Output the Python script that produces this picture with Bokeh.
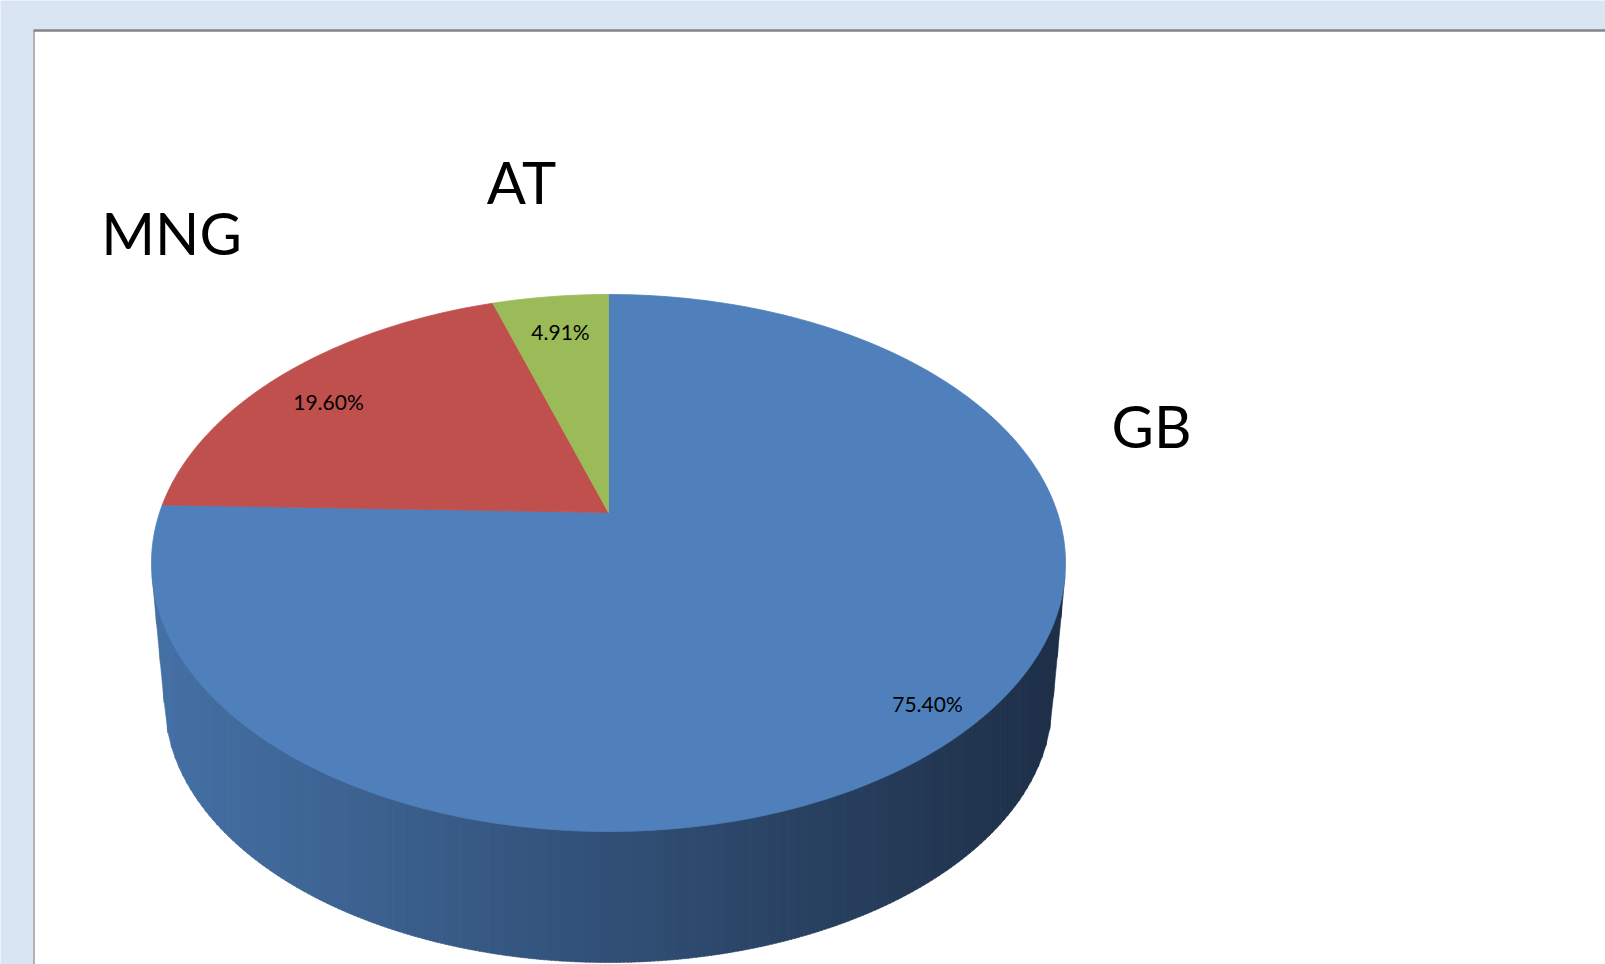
import math
import numpy as np
from bokeh.plotting import figure
from bokeh.models import Range1d
from bokeh.core.properties import value
from bokeh.embed import file_html
from bokeh.resources import INLINE

# ---------------- data ----------------
categories = ["GB", "MNG", "AT"]
shares = [75.40, 19.60, 4.91]
pct_labels = ["75.40%", "19.60%", "4.91%"]
slice_colors = ["#4f80bb", "#bf504d", "#9bbb59"]

# ---------------- layout (pixels) ----------------
W, H = 1605, 964
PANEL_L, PANEL_T = 33, 30
CX, CY, RX, RY = 608.0, 562.5, 457.0, 268.5   # top-face ellipse
TILT = -0.188                                   # perspective shift of pie centre
VY = 5323.0                                     # vanishing point of vertical edges
BOTTOM_Y = 962.0                                # lowest point of the pie side
cat_label_pos = {"GB": (1151, 425), "MNG": (171, 232), "AT": (521, 181)}
pct_label_pos = {"75.40%": (927, 703), "19.60%": (328, 401), "4.91%": (560, 331)}
SIDE_LEFT = np.array([0x45, 0x71, 0xa6])
SIDE_RIGHT = np.array([0x1e, 0x2f, 0x47])

p = figure(width=W, height=H, output_backend="svg", toolbar_location=None,
           x_range=Range1d(0, W), y_range=Range1d(H, 0),
           min_border=0, x_axis_location=None, y_axis_location=None)
p.grid.visible = False
p.outline_line_color = None
p.background_fill_color = "#dae5f4"
p.border_fill_color = "#dae5f4"

# white panel + borders
p.quad(left=PANEL_L, right=W + 5, top=PANEL_T, bottom=H + 5,
       fill_color="white", line_color=None)
p.line([PANEL_L + 0.5, PANEL_L + 0.5], [PANEL_T, H + 5], line_color="#9a9a9a", line_width=1.5)
p.line([PANEL_L, W + 5], [PANEL_T, PANEL_T], line_color="#858585", line_width=2.5)


def project(r, phi):
    """phi: clockwise angle from the far side (12 o'clock); returns screen x, y."""
    u0 = r * np.sin(phi)
    v0 = -r * np.cos(phi)
    den = 1 + TILT * v0
    u = u0 * math.sqrt(1 - TILT ** 2) / den
    v = (v0 + TILT) / den
    return CX + u * RX, CY + v * RY


# ---------------- side of the cylinder ----------------
s = (VY - BOTTOM_Y) / (VY - (CY + RY))
BCY = VY - s * (VY - CY)
BRX, BRY = RX * s, RY * s
d = (VY - CY) / RY
tv = 1.0 / d
tu = math.sqrt(1 - tv ** 2)
tl_top = (CX - tu * RX, CY + tv * RY)
tr_top = (CX + tu * RX, CY + tv * RY)
tl_bot = (CX - tu * BRX, BCY + tv * BRY)
tr_bot = (CX + tu * BRX, BCY + tv * BRY)


def top_low(x):
    t = np.clip((x - CX) / RX, -1, 1)
    return CY + RY * np.sqrt(1 - t * t)


def lower(x):
    if x <= tl_bot[0]:
        f = (x - tl_top[0]) / (tl_bot[0] - tl_top[0])
        return tl_top[1] + f * (tl_bot[1] - tl_top[1])
    if x >= tr_bot[0]:
        f = (x - tr_top[0]) / (tr_bot[0] - tr_top[0])
        return tr_top[1] + f * (tr_bot[1] - tr_top[1])
    t = (x - CX) / BRX
    return BCY + BRY * math.sqrt(max(0.0, 1 - t * t))


N = 240
xs_edges = np.linspace(tl_top[0], tr_top[0], N + 1)
sx, sy, scol = [], [], []
for i in range(N):
    x0, x1 = xs_edges[i], min(xs_edges[i + 1] + 0.6, tr_top[0])
    f = (0.5 * (x0 + x1) - tl_top[0]) / (tr_top[0] - tl_top[0])
    c = SIDE_LEFT + (SIDE_RIGHT - SIDE_LEFT) * f
    scol.append("#%02x%02x%02x" % tuple(int(round(v)) for v in c))
    sx.append([x0, x1, x1, x0])
    sy.append([top_low(x0) - 3, top_low(x1) - 3, lower(x1), lower(x0)])
p.patches(sx, sy, fill_color=scol, line_color=scol, line_width=0.6)

# ---------------- top face slices ----------------
total = sum(shares)
start = 0.0
px, py = [], []
for sh in shares:
    end = start + sh / total * 2 * math.pi
    n = max(4, int(400 * sh / total))
    ang = np.linspace(start, end, n)
    ax, ay = project(1.0, ang)
    ox, oy = project(0.0, 0.0)
    px.append([ox] + list(ax))
    py.append([oy] + list(ay))
    start = end
p.patches(px, py, fill_color=slice_colors, line_color=slice_colors, line_width=0.8)

# ---------------- labels ----------------
p.text(x=[cat_label_pos[c][0] for c in categories],
       y=[cat_label_pos[c][1] for c in categories],
       text=categories, text_font=value("Lato"), text_font_size="58px",
       text_align="center", text_baseline="alphabetic", text_color="black")
p.text(x=[pct_label_pos[t][0] for t in pct_labels],
       y=[pct_label_pos[t][1] for t in pct_labels],
       text=pct_labels, text_font=value("Lato"), text_font_size="21px",
       text_align="center", text_baseline="alphabetic", text_color="black")

open("out.html", "w").write(file_html(p, INLINE))
